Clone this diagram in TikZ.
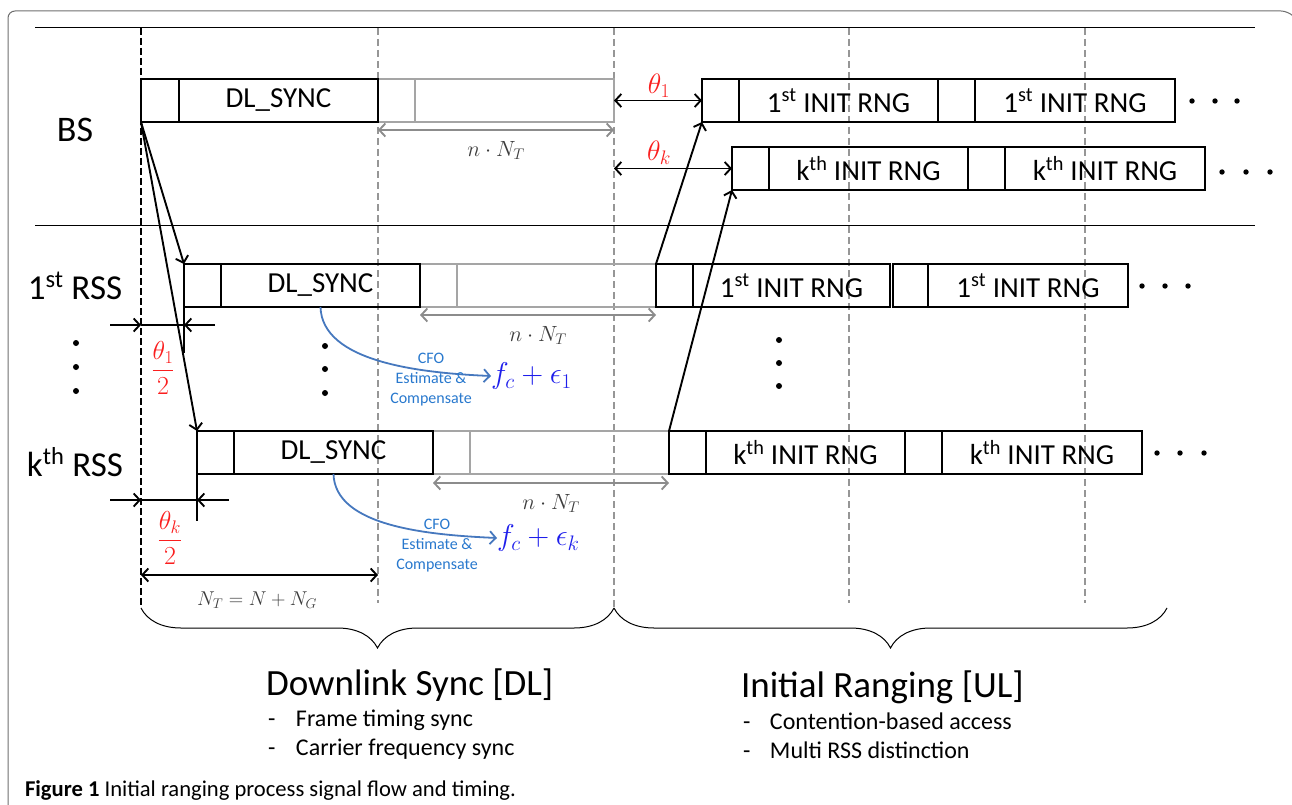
\RequirePackage{fix-cm}
\documentclass[tikz,border=0pt]{standalone}
\usepackage[no-math]{fontspec}
\setmainfont{Carlito}
\usetikzlibrary{arrows.meta,decorations.pathreplacing}
\definecolor{gbox}{RGB}{165,165,165}
\definecolor{gdash}{RGB}{150,150,150}
\definecolor{garrc}{RGB}{140,140,140}
\definecolor{framec}{RGB}{110,110,110}
\definecolor{thred}{RGB}{250,30,30}
\definecolor{cfoline}{RGB}{70,120,190}
\definecolor{cfotxt}{RGB}{40,120,205}
\definecolor{mblue}{RGB}{30,30,235}
\definecolor{labgray}{RGB}{60,60,60}
\newcommand{\fsz}[2]{\fontsize{#1}{#2}\selectfont}
\newcommand{\sps}[2]{#1\textsuperscript{#2}}
\tikzset{
  cell/.style={draw=black, line width=1.8pt, minimum height=43pt, inner sep=0pt, outer sep=0pt, anchor=north west, font=\fsz{29}{32}},
  gcell/.style={cell, draw=gbox},
  tip/.tip={Straight Barb[length=6pt,width=13pt]},
  arr/.style={line width=1.9pt, -tip},
  darr/.style={line width=1.9pt, tip-tip},
  garr/.style={line width=1.9pt, draw=garrc, tip-tip},
  gdl/.style={draw=gdash, line width=1.2pt, dash pattern=on 7pt off 4pt},
  txt/.style={inner sep=0pt, outer sep=0pt},
  dotc/.style={fill=black},
  cfo/.style={draw=cfoline, line width=1.8pt, -tip},
  cfot/.style={txt, align=center, text=cfotxt, font=\fsz{16}{20}},
  item/.style={txt, anchor=base west, font=\fsz{24}{28}},
}
\begin{document}
\begin{tikzpicture}[x=1pt,y=-1pt]
\useasboundingbox (0,0) rectangle (1292,805);
% frame
\draw[framec, line width=1pt, rounded corners=7pt] (8,806) -- (8,11) -- (1288,11) -- (1292,15);
% separators
\draw[line width=1pt] (35,28) -- (1255,28);
\draw[line width=1pt] (35,225) -- (1255,225);
% gray dashed time lines
\draw[gdl] (378,28) -- (378,603);
\draw[gdl] (614,28) -- (614,608);
\draw[gdl] (849,28) -- (849,603);
\draw[gdl] (1085,28) -- (1085,603);
% black dashed line
\draw[line width=1.5pt, dash pattern=on 7pt off 3pt] (141,28) -- (141,606);

% ---------- BS row ----------
\node[gcell, minimum width=37pt] (bg0) at (378,79) {};
\node[gcell, minimum width=199pt] (bg1) at (bg0.north east) {};
\node[cell, minimum width=38pt] (b0) at (141,79) {};
\node[cell, minimum width=199pt] (b1) at (b0.north east) {DL\_SYNC};
\node[cell, minimum width=37pt] (bi0) at (702,79) {};
\node[cell, minimum width=199pt] (bi1) at (bi0.north east) {\sps{1}{st} INIT RNG};
\node[cell, minimum width=37pt] (bi2) at (bi1.north east) {};
\node[cell, minimum width=200pt] (bi3) at (bi2.north east) {\sps{1}{st} INIT RNG};
\node[cell, minimum width=37pt] (bk0) at (732,147) {};
\node[cell, minimum width=199pt] (bk1) at (bk0.north east) {\sps{k}{th} INIT RNG};
\node[cell, minimum width=37pt] (bk2) at (bk1.north east) {};
\node[cell, minimum width=200pt] (bk3) at (bk2.north east) {\sps{k}{th} INIT RNG};

% ---------- 1st RSS row ----------
\node[gcell, minimum width=37pt] (rg0) at (420,264) {};
\node[gcell, minimum width=199pt] (rg1) at (rg0.north east) {};
\node[cell, minimum width=37pt] (r0) at (184,264) {};
\node[cell, minimum width=199pt] (r1) at (r0.north east) {DL\_SYNC};
\node[cell, minimum width=37pt] (ri0) at (656,264) {};
\node[cell, minimum width=197pt] (ri1) at (ri0.north east) {\sps{1}{st} INIT RNG};
\node[cell, minimum width=35pt] (ri2) at (893,264) {};
\node[cell, minimum width=200pt] (ri3) at (ri2.north east) {\sps{1}{st} INIT RNG};

% ---------- kth RSS row ----------
\node[gcell, minimum width=37pt] (kg0) at (433,431) {};
\node[gcell, minimum width=199pt] (kg1) at (kg0.north east) {};
\node[cell, minimum width=37pt] (k0) at (197,431) {};
\node[cell, minimum width=199pt] (k1) at (k0.north east) {DL\_SYNC};
\node[cell, minimum width=37pt] (ki0) at (669,431) {};
\node[cell, minimum width=199pt] (ki1) at (ki0.north east) {\sps{k}{th} INIT RNG};
\node[cell, minimum width=37pt] (ki2) at (ki1.north east) {};
\node[cell, minimum width=200pt] (ki3) at (ki2.north east) {\sps{k}{th} INIT RNG};

% row labels
\node[txt, font=\fsz{36}{40}] (lbs) at (75,130) {BS};
\node[txt, font=\fsz{35}{40}] (l1) at (75,286) {\sps{1}{st} RSS};
\node[txt, font=\fsz{35}{40}] (lk) at (75,462) {\sps{k}{th} RSS};

% horizontal dots
\foreach \x/\y in {1192/101,1215/101,1237/101, 1222/172,1246/172,1270/172, 1142/286,1165/286,1188/286, 1157/453,1180/453,1204/453}
  \fill[dotc] (\x,\y) circle (2.7pt);
% vertical dots
\foreach \x/\y in {76/343,76/367,76/391, 325/346,325/369,325/393, 779/340,779/363,779/386}
  \fill[dotc] (\x,\y) circle (3pt);

% gray n.N_T arrows
\draw[garr] ([yshift=-8pt]bg0.south west) -- ([yshift=-8pt]bg1.south east) node[midway, below=7pt, text=labgray, font=\fsz{22}{26}] (nb) {$n\cdot N_T$};
\draw[garr] ([yshift=-8pt]rg0.south west) -- ([yshift=-8pt]rg1.south east) node[midway, below=7pt, text=labgray, font=\fsz{22}{26}] (nr) {$n\cdot N_T$};
\draw[garr] ([yshift=-9pt]kg0.south west) -- ([yshift=-9pt]kg1.south east) node[midway, below=7pt, text=labgray, font=\fsz{22}{26}] (nk) {$n\cdot N_T$};

% theta arrows at BS
\draw[darr] (bg1.east |- bi0.west) -- (bi0.west);
\draw[darr] (bg1.east |- bk0.west) -- (bk0.west);
\node[txt, text=thred, font=\fsz{28}{32}] (th1) at (659,86) {$\theta_1$};
\node[txt, text=thred, font=\fsz{28}{32}] (thk) at (659,153) {$\theta_k$};

% BS -> RSS downlink arrows
\draw[arr] (b0.south west) -- (r0.north west);
\draw[arr] (b0.south west) -- (k0.north west);
% RSS -> BS uplink arrows
\draw[arr] (ri0.north west) -- (bi0.south west);
\draw[arr] (ki0.north west) -- (bk0.south west);

% theta_1/2 marker
\coordinate (a1l) at (110,325);
\coordinate (a1m) at (141,325);
\coordinate (a1n) at (184,325);
\coordinate (a1r) at (215,325);
\draw[arr] (a1l) -- (a1m);
\draw[arr] (a1r) -- (a1n);
\draw[line width=1.5pt] (a1m) -- (a1n);
\draw[line width=1.8pt] (r0.south west) -- ++(0,46);
\node[txt, text=thred, font=\fsz{26}{30}] (f1) at (163,368) {$\displaystyle\frac{\theta_1}{2}$};

% theta_k/2 marker
\coordinate (akl) at (110,500);
\coordinate (akm) at (141,500);
\coordinate (akn) at (197,500);
\coordinate (akr) at (229,500);
\draw[arr] (akl) -- (akm);
\draw[arr] (akr) -- (akn);
\draw[line width=1.5pt] (akm) -- (akn);
\draw[line width=1.8pt] (k0.south west) -- ++(0,47);
\node[txt, text=thred, font=\fsz{26}{30}] (fk) at (170,538) {$\displaystyle\frac{\theta_k}{2}$};

% N_T arrow
\coordinate (ntl) at (141,575);
\coordinate (ntr) at (378,575);
\draw[darr] (ntl) -- (ntr);
\node[txt, text=labgray, font=\fsz{20}{24}] (ntlab) at (257,600) {$N_T=N+N_G$};

% CFO curves
\node[txt, anchor=west, text=mblue, font=\fsz{30}{34}] (fe1) at (491,376) {$f_c+\epsilon_1$};
\node[txt, anchor=west, text=mblue, font=\fsz{30}{34}] (fek) at (497,538) {$f_c+\epsilon_k$};
\draw[cfo] (r1.south) .. controls (322,362) and (420,373) .. (fe1.west);
\draw[cfo] (k1.south) .. controls (335,527) and (430,535) .. (fek.west);
\node[cfot] (c1) at (431,380) {CFO\\Estimate \&\\Compensate};
\node[cfot] (ck) at (437,546) {CFO\\Estimate \&\\Compensate};

% braces
\draw[line width=1pt, decorate, decoration={brace, mirror, amplitude=40pt, aspect=0.5}] (141,608) -- (614,608);
\draw[line width=1pt, decorate, decoration={brace, mirror, amplitude=40pt, aspect=0.5}] (614,608) -- (1167,608);

% section texts
\node[txt, anchor=base west, font=\fsz{37}{44}] (dl) at (266,695) {Downlink Sync [DL]};
\node[item] (dl1) at (268,726) {\makebox[28pt][l]{-}Frame timing sync};
\node[item] (dl2) at (268,755) {\makebox[28pt][l]{-}Carrier frequency sync};
\node[txt, anchor=base west, font=\fsz{37}{44}] (ul) at (741,697) {Initial Ranging [UL]};
\node[item] (ul1) at (743,729) {\makebox[27pt][l]{-}Contention-based access};
\node[item] (ul2) at (743,758) {\makebox[27pt][l]{-}Multi RSS distinction};

% caption
\node[txt, anchor=base west, font=\fsz{22.6}{26}] (cap) at (25,796) {\textbf{Figure 1} Initial ranging process signal flow and timing.};
\end{tikzpicture}
\end{document}
